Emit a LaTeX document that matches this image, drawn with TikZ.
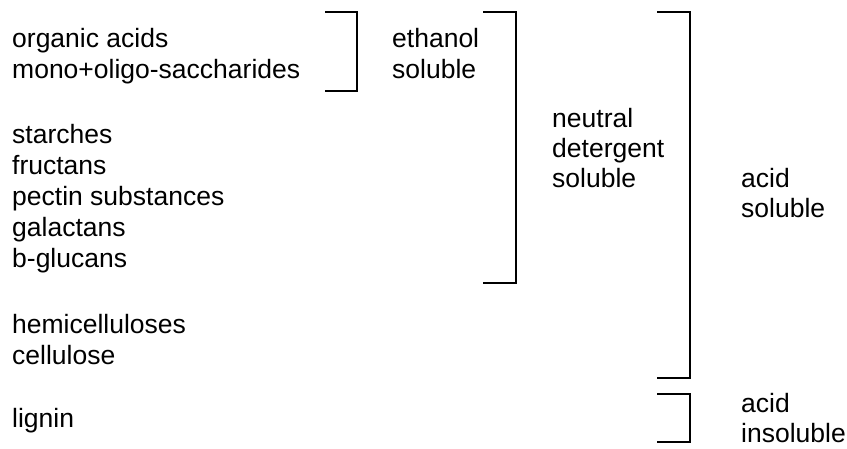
\documentclass[tikz,border=0pt]{standalone}
\usepackage{fontspec}
\setmainfont{Liberation Sans}
\begin{document}
\begin{tikzpicture}[x=1pt,y=-1pt,
  lbl/.style={anchor=base west, inner sep=0pt, font=\fontsize{26.5}{31}\selectfont},
  brk/.style={line width=1.8pt, line join=miter}]
\useasboundingbox (0,0) rectangle (847,448);

% fractions listed on the left
\node[lbl] (oa)  at (12,47)  {organic acids};
\node[lbl] (mo)  at (12,78)  {mono+oligo-saccharides};
\node[lbl] (st)  at (12,143) {starches};
\node[lbl] (fr)  at (12,174) {fructans};
\node[lbl] (pe)  at (12,205) {pectin substances};
\node[lbl] (ga)  at (12,236) {galactans};
\node[lbl] (bg)  at (12,267) {b-glucans};
\node[lbl] (he)  at (12,333) {hemicelluloses};
\node[lbl] (ce)  at (12,364) {cellulose};
\node[lbl] (li)  at (12,427) {lignin};

% bracket: ethanol soluble
\coordinate (e1) at (325,12);
\coordinate (e2) at (357,91);
\draw[brk] (e1) -| (e2) -- (e2 -| e1);
\node[lbl] (et1) at (392,47) {ethanol};
\node[lbl] (et2) at (392,78) {soluble};

% bracket: neutral detergent soluble
\coordinate (n1) at (483,12);
\coordinate (n2) at (516,283);
\draw[brk] (n1) -| (n2) -- (n2 -| n1);
\node[lbl] (nd1) at (552,127) {neutral};
\node[lbl] (nd2) at (552,157) {detergent};
\node[lbl] (nd3) at (552,187) {soluble};

% bracket: acid soluble
\coordinate (a1) at (657,12);
\coordinate (a2) at (690,378);
\draw[brk] (a1) -| (a2) -- (a2 -| a1);
\node[lbl] (as1) at (741,187) {acid};
\node[lbl] (as2) at (741,217) {soluble};

% bracket: acid insoluble
\coordinate (i1) at (657,394);
\coordinate (i2) at (690,442);
\draw[brk] (i1) -| (i2) -- (i2 -| i1);
\node[lbl] (ai1) at (741,412) {acid};
\node[lbl] (ai2) at (741,442) {insoluble};
\end{tikzpicture}
\end{document}
